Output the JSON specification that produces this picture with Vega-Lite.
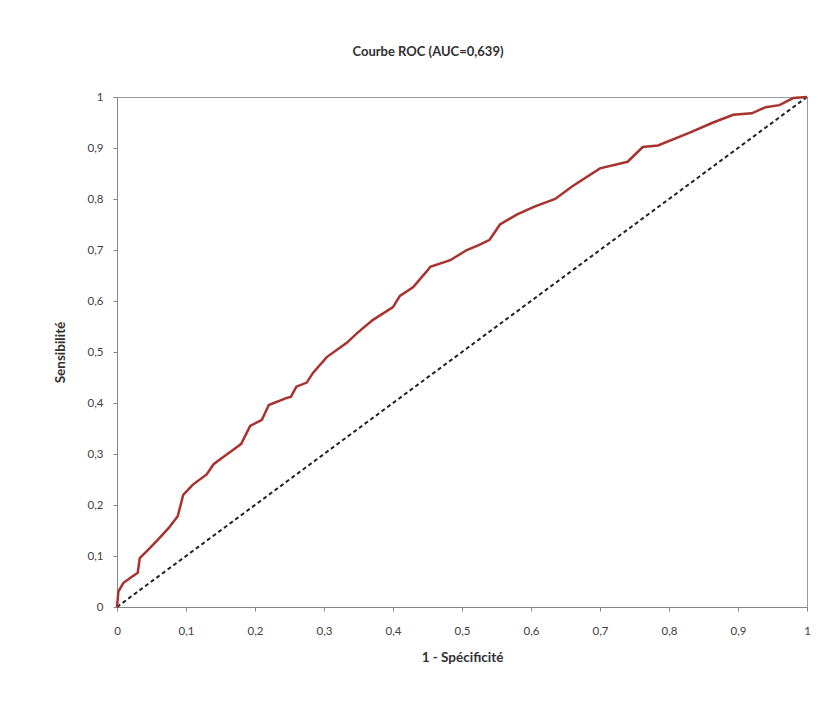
{
  "$schema": "https://vega.github.io/schema/vega-lite/v6.json",
  "autosize": {"type": "none"},
  "width": 690,
  "height": 510,
  "padding": {"left": 117, "top": 97, "right": 27, "bottom": 101},
  "background": "white",
  "config": {
    "font": "Lato",
    "view": {"stroke": "#9a9a9a", "strokeWidth": 1}
  },
  "title": {
    "text": "Courbe ROC (AUC=0,639)",
    "fontSize": 13,
    "fontWeight": "bold",
    "color": "#303030",
    "anchor": "middle",
    "dx": -34,
    "offset": 32
  },
  "datasets": {
    "roc": [
      {"x": 0, "y": 0}, {"x": 0.002, "y": 0.03}, {"x": 0.009, "y": 0.047}, {"x": 0.02, "y": 0.058},
      {"x": 0.03, "y": 0.067}, {"x": 0.033, "y": 0.096}, {"x": 0.045, "y": 0.112}, {"x": 0.058, "y": 0.13},
      {"x": 0.075, "y": 0.155}, {"x": 0.088, "y": 0.178}, {"x": 0.096, "y": 0.22}, {"x": 0.11, "y": 0.24},
      {"x": 0.13, "y": 0.26}, {"x": 0.14, "y": 0.28}, {"x": 0.155, "y": 0.295}, {"x": 0.17, "y": 0.31},
      {"x": 0.18, "y": 0.32}, {"x": 0.193, "y": 0.355}, {"x": 0.21, "y": 0.367}, {"x": 0.22, "y": 0.396},
      {"x": 0.246, "y": 0.41}, {"x": 0.252, "y": 0.412}, {"x": 0.26, "y": 0.432}, {"x": 0.275, "y": 0.44},
      {"x": 0.284, "y": 0.459}, {"x": 0.304, "y": 0.49}, {"x": 0.333, "y": 0.518}, {"x": 0.348, "y": 0.537},
      {"x": 0.371, "y": 0.563}, {"x": 0.4, "y": 0.588}, {"x": 0.41, "y": 0.61}, {"x": 0.429, "y": 0.627},
      {"x": 0.45, "y": 0.66}, {"x": 0.454, "y": 0.667}, {"x": 0.483, "y": 0.68}, {"x": 0.507, "y": 0.7},
      {"x": 0.525, "y": 0.71}, {"x": 0.54, "y": 0.72}, {"x": 0.555, "y": 0.75}, {"x": 0.58, "y": 0.77},
      {"x": 0.605, "y": 0.785}, {"x": 0.635, "y": 0.8}, {"x": 0.66, "y": 0.825}, {"x": 0.7, "y": 0.86},
      {"x": 0.74, "y": 0.873}, {"x": 0.762, "y": 0.902}, {"x": 0.784, "y": 0.905}, {"x": 0.83, "y": 0.93},
      {"x": 0.864, "y": 0.95}, {"x": 0.893, "y": 0.965}, {"x": 0.92, "y": 0.968}, {"x": 0.94, "y": 0.98},
      {"x": 0.96, "y": 0.984}, {"x": 0.98, "y": 0.998}, {"x": 1, "y": 1}
    ],
    "diag": [
      {"x": 0, "y": 0}, {"x": 1, "y": 1}
    ]
  },
  "encoding": {
    "x": {
      "field": "x", "type": "quantitative",
      "scale": {"domain": [0, 1], "nice": false},
      "axis": {
        "title": "1 - Spécificité",
        "values": [0, 0.1, 0.2, 0.3, 0.4, 0.5, 0.6, 0.7, 0.8, 0.9, 1],
        "labelExpr": "replace(format(datum.value, ''), '.', ',')",
        "grid": false,
        "domainColor": "#868686",
        "tickColor": "#868686",
        "tickSize": 4,
        "labelPadding": 14,
        "labelFontSize": 11.5,
        "labelColor": "#404040",
        "labelFlush": false,
        "titleFontSize": 13.5,
        "titleFontWeight": "bold",
        "titleColor": "#303030",
        "titlePadding": 14
      }
    },
    "y": {
      "field": "y", "type": "quantitative",
      "scale": {"domain": [0, 1], "nice": false},
      "axis": {
        "title": "Sensibilité",
        "values": [0, 0.1, 0.2, 0.3, 0.4, 0.5, 0.6, 0.7, 0.8, 0.9, 1],
        "labelExpr": "replace(format(datum.value, ''), '.', ',')",
        "grid": false,
        "domainColor": "#868686",
        "tickColor": "#868686",
        "tickSize": 4,
        "labelPadding": 10,
        "labelFontSize": 11.5,
        "labelColor": "#404040",
        "labelFlush": false,
        "titleFontSize": 13.5,
        "titleFontWeight": "bold",
        "titleColor": "#303030",
        "titlePadding": 20
      }
    }
  },
  "layer": [
    {
      "data": {"name": "diag"},
      "mark": {"type": "line", "color": "#222222", "strokeWidth": 2, "strokeDash": [4, 3]}
    },
    {
      "data": {"name": "roc"},
      "mark": {"type": "line", "color": "#a8322d", "strokeWidth": 2.5}
    }
  ]
}
